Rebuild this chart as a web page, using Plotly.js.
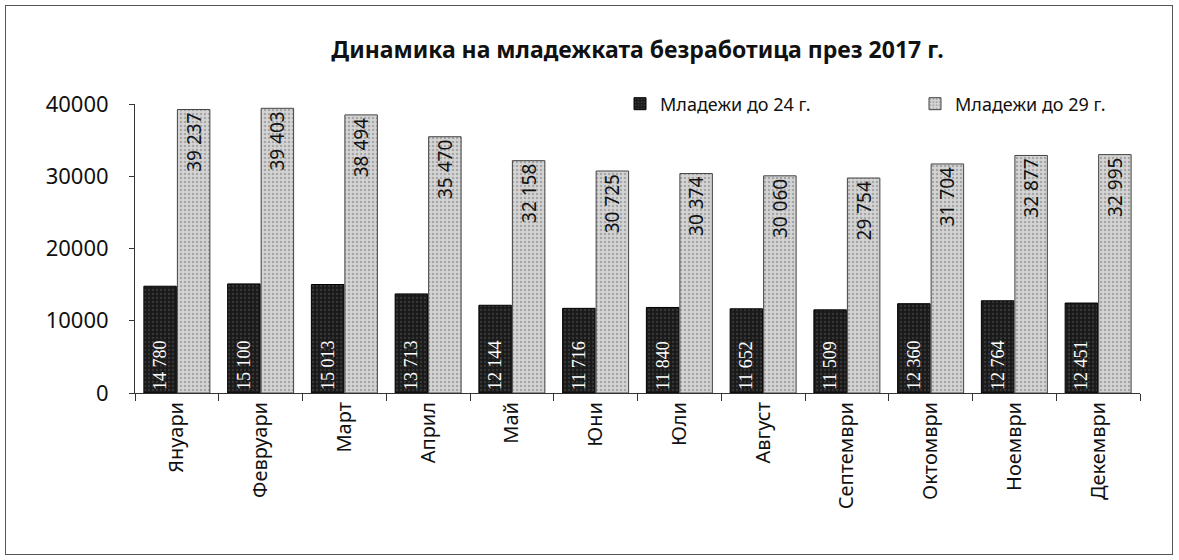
<!DOCTYPE html>
<html><head><meta charset="utf-8">
<script src="https://cdn.plot.ly/plotly-3.0.1.min.js"></script>
<style>
html,body{margin:0;padding:0;background:#fff;}
#chart{position:absolute;left:5px;top:5px;width:1166px;height:548px;border:1px solid #555;}
</style></head>
<body><div id="chart"></div>
<script>
const months = ["Януари","Февруари","Март","Април","Май","Юни","Юли","Август","Септември","Октомври","Ноември","Декември"];
const youth24 = [14780,15100,15013,13713,12144,11716,11840,11652,11509,12360,12764,12451];
const youth29 = [39237,39403,38494,35470,32158,30725,30374,30060,29754,31704,32877,32995];
const seriesNames = ["Младежи до 24 г.","Младежи до 29 г."];
const yTicks = [0,10000,20000,30000,40000];

const fmt = v => String(v).replace(/\B(?=(\d{3})+(?!\d))/g, " ");
const FONT = "Noto Sans, Open Sans, sans-serif";

const traces = [
  {type:"bar", name:seriesNames[0], x:months, y:youth24, legend:"legend",
   text:youth24.map(fmt), textposition:"inside", insidetextanchor:"start", textangle:-90,
   textfont:{color:"#fff", size:18, family:"Liberation Serif, serif"},
   marker:{color:"#1a1a1a", line:{color:"#000", width:1},
           pattern:{shape:".", fillmode:"overlay", fgcolor:"#555", size:4, solidity:0.25}},
   hoverinfo:"x+y"},
  {type:"bar", name:seriesNames[1], x:months, y:youth29, legend:"legend2",
   text:youth29.map(fmt), textposition:"inside", insidetextanchor:"end", textangle:-90,
   textfont:{color:"#111", size:19, family:FONT},
   marker:{color:"#d4d4d4", line:{color:"#444", width:1},
           pattern:{shape:".", fillmode:"overlay", fgcolor:"#777", size:4, solidity:0.3}},
   hoverinfo:"x+y"}
];

const legendBase = {orientation:"h", xanchor:"left", y:1.0, yanchor:"middle",
                    font:{size:18, family:FONT}, bgcolor:"rgba(0,0,0,0)"};

const layout = {
  width:1166, height:548,
  margin:{l:129, r:32, t:98, b:161},
  paper_bgcolor:"#fff", plot_bgcolor:"#fff",
  font:{family:FONT, color:"#111"},
  title:{text:"<b>Динамика на младежката безработица през 2017 г.</b>", font:{size:23, family:FONT, color:"#111"},
         x:0.5, xref:"paper", xanchor:"center", y:1-44/548, yref:"container", yanchor:"middle"},
  barmode:"group", bargap:0.2, bargroupgap:0.03,
  xaxis:{tickangle:-90, tickfont:{size:20, family:FONT}, showline:true, linecolor:"#333", linewidth:1,
         ticks:"outside", tickson:"boundaries", ticklen:7, tickcolor:"#333", showgrid:false},
  yaxis:{range:[0,40000], tickvals:yTicks, ticktext:yTicks.map(String), tickfont:{size:22, family:FONT},
         showline:true, linecolor:"#333", linewidth:1, ticks:"outside", ticklen:5, tickcolor:"#333",
         ticklabelstandoff:16, showgrid:false, zeroline:false},
  legend:Object.assign({}, legendBase, {x:(620-135)/1005}),
  legend2:Object.assign({}, legendBase, {x:(915-135)/1005}),
  showlegend:true
};

Plotly.newPlot("chart", traces, layout, {displayModeBar:false, staticPlot:true});
</script></body></html>
